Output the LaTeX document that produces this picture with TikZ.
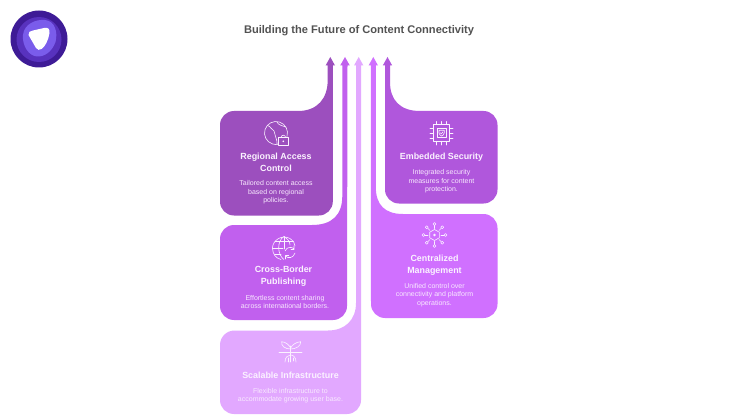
\documentclass[tikz,border=0pt]{standalone}
\usepackage{fontspec}
\setmainfont{Liberation Sans}
\definecolor{cA}{HTML}{9C4FBE}
\definecolor{cB}{HTML}{C160EE}
\definecolor{cC}{HTML}{E2A8FF}
\definecolor{cD}{HTML}{B057DC}
\definecolor{cE}{HTML}{D070FF}
\definecolor{headtxt}{HTML}{FBF2FF}
\definecolor{desctxt}{HTML}{F8E9FE}
\definecolor{logoA}{HTML}{3E1B96}
\definecolor{logoB}{HTML}{5832BE}
\definecolor{logoC}{HTML}{7A5CEB}
\tikzset{
  head/.style={text=headtxt,align=center,inner sep=0pt,font=\fontsize{8.9}{11.6}\selectfont\bfseries},
  desc/.style={text=desctxt,align=center,inner sep=0pt,font=\fontsize{7}{8.8}\selectfont},
  ttl/.style={text=black!68,inner sep=0pt,font=\fontsize{11.1}{13}\selectfont\bfseries},
  ico/.style={draw=headtxt,line width=0.6pt,line cap=round,line join=round},
}
\begin{document}
\begin{tikzpicture}[x=1pt,y=-1pt]
\useasboundingbox (0,0) rectangle (740,420);
\fill[white] (0,0) rectangle (740,420);
% logo
\fill[logoA] (39,39) circle (28.5);
\fill[logoB] (39,39.5) circle (22.5);
\fill[logoC] (23,35) .. controls (24,24) and (36,19) .. (45,20) .. controls (55,21) and (58,32) .. (55.5,42) .. controls (52,52) and (44,57) .. (37,56.5) .. controls (29,56) and (22,46) .. (23,35) -- cycle;
\fill[white] (28.5,35) .. controls (28,32) and (30,31) .. (33,30.5) -- (44,28) .. controls (48,27) and (50,29) .. (49.5,33) .. controls (48.5,40) and (45,47) .. (41.5,49) .. controls (39.5,50.5) and (37.5,50) .. (36,48) -- cycle;
% title
\node[ttl] (title) at (359,30.5) {Building the Future of Content Connectivity};
% card C scalable
\fill[cC] (220,345) arc[start angle=180,end angle=270,radius=14.5] -- (328,330.5) .. controls (345,330.5) and (356,320) .. (356,303) -- (356,65.5) -- (354,65.5) -- (358.7,57) -- (363.4,65.5) -- (361,65.5) -- (361,400) arc[start angle=0,end angle=90,radius=14] -- (234,414) arc[start angle=90,end angle=180,radius=14] -- cycle;
% card B cross-border
\fill[cB] (220,239) arc[start angle=180,end angle=270,radius=14] -- (312,225) .. controls (332,225) and (342.3,215) .. (342.3,196) -- (342.3,65.5) -- (340.2,65.5) -- (345,57) -- (349.8,65.5) -- (347.5,65.5) -- (347,306) arc[start angle=0,end angle=90,radius=14] -- (234,320) arc[start angle=90,end angle=180,radius=14] -- cycle;
% card A regional
\fill[cA] (220,125) arc[start angle=180,end angle=270,radius=14] -- (298,111) .. controls (317,111) and (327.7,99) .. (327.7,80) -- (327.7,65.5) -- (325.6,65.5) -- (330.3,57) -- (335,65.5) -- (332.8,65.5) -- (332.8,201.5) arc[start angle=0,end angle=90,radius=14] -- (234,215.5) arc[start angle=90,end angle=180,radius=14] -- cycle;
% card D embedded
\fill[cD] (385,65.5) -- (382.8,65.5) -- (387.5,57) -- (392.2,65.5) -- (390,65.5) -- (390,82) .. controls (390,100) and (400,111) .. (420,111) -- (483.5,111) arc[start angle=-90,end angle=0,radius=14] -- (497.5,189.5) arc[start angle=0,end angle=90,radius=14] -- (399,203.5) arc[start angle=90,end angle=180,radius=14] -- cycle;
% card E centralized
\fill[cE] (370.8,65.5) -- (368.6,65.5) -- (373.3,57) -- (378,65.5) -- (375.8,65.5) -- (375.8,187) .. controls (375.8,205) and (385,214) .. (403,214) -- (483.5,214) arc[start angle=-90,end angle=0,radius=14] -- (497.5,304) arc[start angle=0,end angle=90,radius=14] -- (385,318) arc[start angle=90,end angle=180,radius=14] -- cycle;
% texts
\node[head] (h1) at (276,162.6) {Regional Access\\Control};
\node[desc] (d1) at (276,192.3) {Tailored content access\\based on regional\\policies.};
\node[head] (h2) at (283.5,276.2) {Cross-Border\\Publishing};
\node[desc] (d2) at (285,302) {Effortless content sharing\\across international borders.};
\node[head] (h3) at (290.5,375.7) {Scalable Infrastructure};
\node[desc] (d3) at (290.5,395.6) {Flexible infrastructure to\\accommodate growing user base.};
\node[head] (h4) at (441.5,156.7) {Embedded Security};
\node[desc] (d4) at (441.5,181.3) {Integrated security\\measures for content\\protection.};
\node[head] (h5) at (434.5,265.2) {Centralized\\Management};
\node[desc] (d5) at (434.5,295) {Unified control over\\connectivity and platform\\operations.};
% icon globe+lock
\begin{scope}[ico]
\draw (276,133) ++(18:11.5) arc[start angle=18,end angle=-285,radius=11.5];
\draw (267.5,125.5) .. controls (271,126) and (271,130) .. (274,131) .. controls (276,133) and (274,136) .. (276,138) .. controls (277,140) and (277,142) .. (277,144);
\draw (277,122) .. controls (278,125) and (283,126) .. (286,127);
\draw[fill=cA] (278.5,137.5) rectangle (288,145);
\draw (281,137.5) arc[start angle=180,end angle=360,radius=2.3];
\fill[headtxt,draw=none] (283.3,141.3) circle (0.9);
\end{scope}
% icon chip
\begin{scope}[ico]
\draw (433.5,124.7) rectangle (449.7,141.3);
\draw (437,128.2) rectangle (446.2,137.8);
\foreach \o in {-5,0,5}{
  \draw (441.6+\o,121.5) -- (441.6+\o,124.7) (441.6+\o,141.3) -- (441.6+\o,145);
  \draw (430,133+\o) -- (433.5,133+\o) (449.7,133+\o) -- (453,133+\o);
}
\draw (439,130.3) -- (444.2,130.3) -- (444.2,133) .. controls (444.2,134.5) and (442.5,135.7) .. (441.6,136) .. controls (440.7,135.7) and (439,134.5) .. (439,133) -- cycle;
\draw (440.3,132.8) -- (441.3,133.8) -- (443,131.8);
\end{scope}
% icon globe arrows
\begin{scope}[ico]
\draw (290,238.5) .. controls (281,234) and (272.5,241) .. (272.5,248) .. controls (272.5,254) and (276,258.5) .. (281,259.5);
\draw (290,238.5) .. controls (293,240) and (295,243) .. (295,246);
\draw (283.8,236.5) .. controls (277,241) and (277,254) .. (283.8,259.5);
\draw (283.8,236.5) .. controls (288,239) and (290,242) .. (290,245);
\draw (283.8,236.5) -- (283.8,249);
\draw (272.5,248) -- (283,248);
\draw (275,241) -- (293,241);
\draw (275,254.5) -- (281,254.5);
\draw (285,251) .. controls (287,246.5) and (292,246.5) .. (294,249) (294,246) -- (294,249.5) -- (290.8,249.5);
\draw (295,253) .. controls (293.5,258) and (288,259) .. (285.5,256) (285.5,259) -- (285.5,255.5) -- (288.8,255.5);
\end{scope}
% icon plant
\begin{scope}[ico]
\draw (279,352.3) -- (302,352.3);
\draw (290.7,346) -- (290.7,362);
\draw (290.7,348) .. controls (289,345) and (286,342) .. (281.7,341.7) .. controls (281,346) and (285,349) .. (290.7,349);
\draw (290.7,348) .. controls (292,345) and (296,342) .. (300.7,341.7) .. controls (301,346) and (296,349) .. (290.7,349);
\draw (290.7,355) .. controls (288,355) and (285,357) .. (285,362);
\draw (290.7,355) .. controls (293,355) and (296,357) .. (296,362);
\draw (288,358) -- (288,362);
\draw (293.5,358) -- (293.5,361);
\end{scope}
% icon network
\begin{scope}[ico]
\draw (434.5,229.5) -- (439.3,232.2) -- (439.3,237.8) -- (434.5,240.5) -- (429.7,237.8) -- (429.7,232.2) -- cycle;
\fill[headtxt,draw=none] (434.5,235) circle (1.4);
\foreach \a in {0,45,...,315}{
  \draw ({434.5+6.5*cos(\a)},{235+6.5*sin(\a)}) -- ({434.5+9.5*cos(\a)},{235+9.5*sin(\a)});
  \draw ({434.5+11*cos(\a)},{235+11*sin(\a)}) circle (1.5);
}
\end{scope}
\end{tikzpicture}
\end{document}
